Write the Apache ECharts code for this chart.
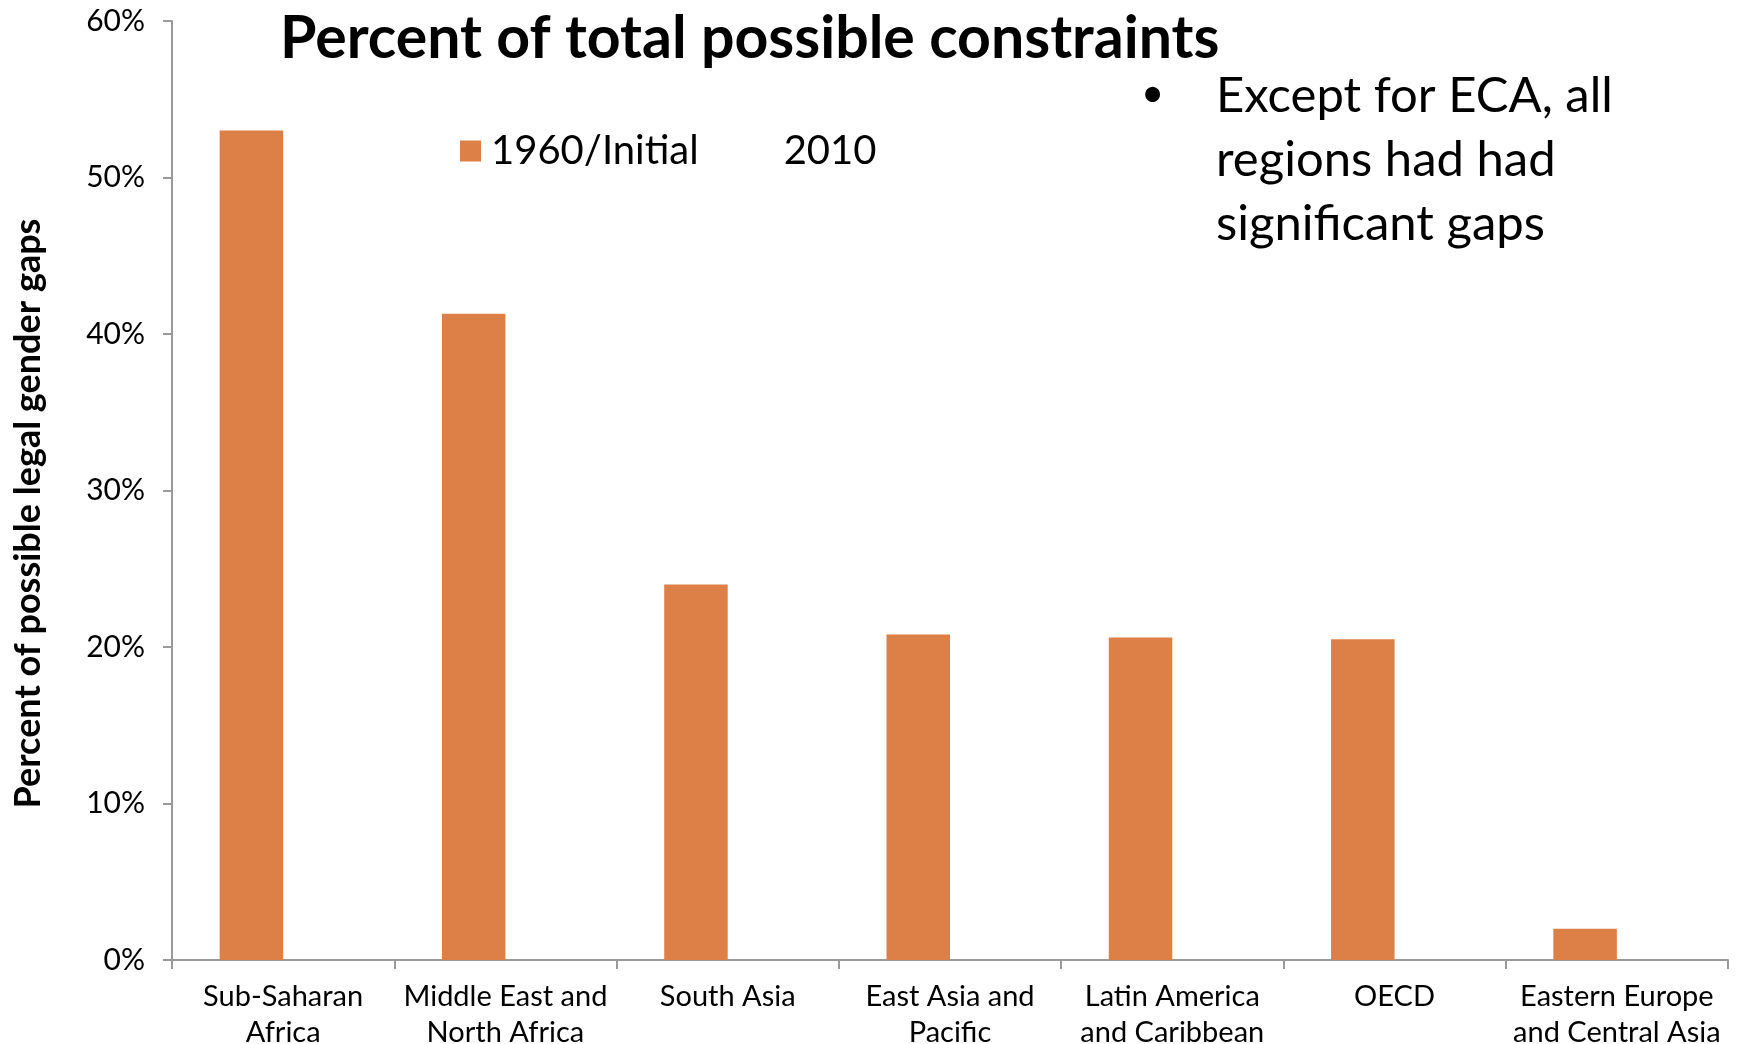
<!DOCTYPE html>
<html>
<head>
<meta charset="utf-8">
<script src="https://cdn.jsdelivr.net/npm/echarts@6/dist/echarts.min.js"></script>
<style>
html,body{margin:0;padding:0;background:#fff;}
#chart{width:1739px;height:1044px;}
</style>
</head>
<body>
<div id="chart"></div>
<script>
const categories = ['Sub-Saharan\nAfrica', 'Middle East and\nNorth Africa', 'South Asia', 'East Asia and\nPacific', 'Latin America\nand Caribbean', 'OECD', 'Eastern Europe\nand Central Asia'];
const values1960 = [53.0, 41.3, 24.0, 20.8, 20.6, 20.5, 2.0];
const values2010 = [null, null, null, null, null, null, null];
const seriesNames = ['1960/Initial', '2010'];
const yMin = 0, yMax = 60, yInterval = 10;
const titleText = 'Percent of total possible constraints';
const yAxisTitle = 'Percent of possible legal gender gaps';
const noteLines = ['Except for ECA, all', 'regions had had', 'significant gaps'];

const FONT = 'Lato';
const axisColor = '#9A9A9A';
const barColor = '#DD8047';

const chart = echarts.init(document.getElementById('chart'), null, {renderer: 'canvas'});
chart.setOption({
  animation: false,
  backgroundColor: '#ffffff',
  title: {
    text: titleText,
    left: 275, top: 4,
    textStyle: {fontFamily: FONT, fontWeight: 'bold', fontSize: 59, color: '#000'}
  },
  legend: {
    data: seriesNames,
    left: 460, top: 131,
    padding: 0,
    icon: 'rect',
    itemWidth: 21, itemHeight: 21,
    itemGap: 54,
    textStyle: {fontFamily: FONT, fontSize: 40, color: '#000', lineHeight: 40, padding: [0, 0, 0, 5]}
  },
  grid: {left: 172, right: 11, top: 21, bottom: 84, containLabel: false, outerBoundsMode: 'none'},
  xAxis: {
    type: 'category',
    data: categories,
    axisLine: {lineStyle: {color: axisColor, width: 2}},
    axisTick: {show: true, length: 9, lineStyle: {color: axisColor, width: 2}},
    axisLabel: {fontFamily: FONT, fontSize: 29, color: '#000', margin: 19, lineHeight: 35.5, interval: 0}
  },
  yAxis: {
    type: 'value',
    min: yMin, max: yMax, interval: yInterval,
    name: yAxisTitle,
    nameLocation: 'middle',
    nameRotate: 90,
    nameGap: 126,
    nameTextStyle: {fontFamily: FONT, fontWeight: 'bold', fontSize: 36, color: '#000', padding: [0, 46, 0, 0]},
    axisLine: {show: true, lineStyle: {color: axisColor, width: 2}},
    axisTick: {show: true, length: 9, lineStyle: {color: axisColor, width: 2}},
    splitLine: {show: false},
    axisLabel: {fontFamily: FONT, fontSize: 30, color: '#000', margin: 27, formatter: '{value}%'}
  },
  series: [
    {name: seriesNames[0], type: 'bar', data: values1960, barWidth: 63.5, barGap: '0%', itemStyle: {color: barColor}},
    {name: seriesNames[1], type: 'bar', data: values2010, barWidth: 63.5, barGap: '0%', itemStyle: {color: 'rgba(255,255,255,0)'}}
  ],
  graphic: [
    {type: 'text', left: 1141, top: 74, style: {text: '•', fontFamily: FONT, fontSize: 40, fill: '#000'}},
    {type: 'text', left: 1216, top: 64, style: {text: noteLines.join('\n'), fontFamily: FONT, fontSize: 49, lineHeight: 64, fill: '#000'}}
  ]
});
</script>
</body>
</html>
